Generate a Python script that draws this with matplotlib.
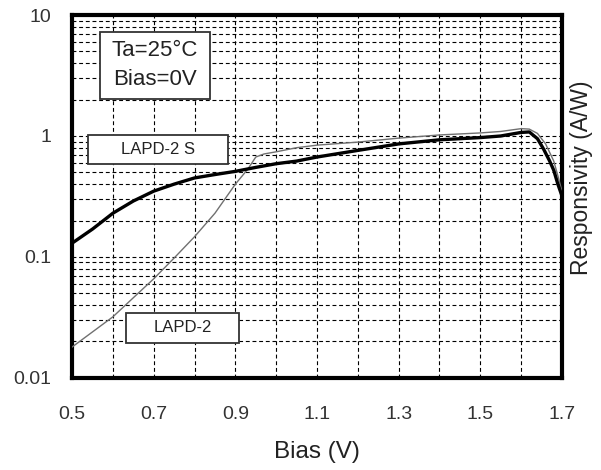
import matplotlib
matplotlib.use("Agg")
import matplotlib.pyplot as plt
from matplotlib.patches import Rectangle
from matplotlib.ticker import MultipleLocator, FixedLocator, LogLocator, NullFormatter

plt.rcParams['font.family'] = ['Liberation Sans', 'DejaVu Sans']

# LAPD-2 S (thick)
bias_s = [0.5, 0.55, 0.6, 0.65, 0.7, 0.75, 0.8, 0.85, 0.9, 0.95, 1.0, 1.05, 1.1, 1.2, 1.3,
          1.4, 1.5, 1.55, 1.6, 1.62, 1.64, 1.655, 1.67, 1.68, 1.69, 1.70]
resp_s = [0.13, 0.17, 0.23, 0.29, 0.35, 0.40, 0.45, 0.48, 0.51, 0.55, 0.59, 0.62, 0.67, 0.76, 0.86,
          0.93, 0.97, 1.0, 1.07, 1.08, 0.95, 0.78, 0.62, 0.52, 0.40, 0.32]

# LAPD-2 (thin)
bias_2 = [0.5, 0.55, 0.6, 0.65, 0.7, 0.75, 0.8, 0.85, 0.9, 0.93, 0.95, 0.97, 1.0, 1.05, 1.1,
          1.2, 1.3, 1.4, 1.5, 1.55, 1.6, 1.62, 1.64, 1.66, 1.68, 1.69, 1.70]
resp_2 = [0.018, 0.024, 0.032, 0.046, 0.066, 0.098, 0.147, 0.23, 0.40, 0.53, 0.67, 0.71, 0.74, 0.80, 0.84,
          0.89, 0.96, 1.02, 1.06, 1.09, 1.15, 1.14, 1.05, 0.86, 0.62, 0.47, 0.35]

x_ticks = [0.5, 0.7, 0.9, 1.1, 1.3, 1.5, 1.7]
x_tick_labels = ["0.5", "0.7", "0.9", "1.1", "1.3", "1.5", "1.7"]
y_ticks = [0.01, 0.1, 1, 10]
y_tick_labels = ["0.01", "0.1", "1", "10"]

fig = plt.figure(figsize=(6.01, 4.70), dpi=100)
ax = fig.add_axes([0.120, 0.196, 0.815, 0.772])

ax.set_yscale('log')
ax.set_xlim(0.5, 1.7)
ax.set_ylim(0.01, 10)

ax.xaxis.set_major_locator(FixedLocator(x_ticks))
ax.set_xticklabels(x_tick_labels)
ax.xaxis.set_minor_locator(MultipleLocator(0.1))
ax.yaxis.set_major_locator(FixedLocator(y_ticks))
ax.set_yticklabels(y_tick_labels)
ax.yaxis.set_minor_locator(LogLocator(base=10, subs=range(2, 10)))
ax.yaxis.set_minor_formatter(NullFormatter())

ax.tick_params(which='both', length=0)
ax.tick_params(axis='both', labelsize=14, labelcolor='#333333')
ax.tick_params(axis='y', pad=15)
ax.tick_params(axis='x', pad=20)

ax.grid(True, which='both', axis='both', color='black', linestyle=(0, (3.5, 2.5)), linewidth=0.8)

for s in ax.spines.values():
    s.set_linewidth(3)
    s.set_color('black')

ax.plot(bias_2, resp_2, color='#707070', linewidth=1.0, zorder=3)
ax.plot(bias_s, resp_s, color='black', linewidth=2.4, zorder=4)

def box(x0, y0, x1, y1, text, size):
    r = Rectangle((x0, y0), x1 - x0, y1 - y0, transform=ax.transAxes,
                  facecolor='white', edgecolor='#333333', linewidth=1.3, zorder=5)
    ax.add_patch(r)
    ax.text((x0 + x1) / 2, (y0 + y1) / 2, text, transform=ax.transAxes,
            ha='center', va='center', fontsize=size, color='#222222', zorder=6,
            linespacing=1.5)

box(0.057, 0.769, 0.282, 0.953, "Ta=25°C\nBias=0V", 16)
box(0.033, 0.590, 0.318, 0.669, "LAPD-2 S", 12)
box(0.110, 0.096, 0.341, 0.179, "LAPD-2", 12)

ax.set_xlabel("Bias (V)", fontsize=17.5, color='#222222', labelpad=13)
ax.yaxis.set_label_position('right')
ax.set_ylabel("Responsivity (A/W)", fontsize=16.5, color='#222222')
ax.yaxis.set_label_coords(1.016, 0.551)

fig.savefig("out.png", dpi=100, facecolor='white')
